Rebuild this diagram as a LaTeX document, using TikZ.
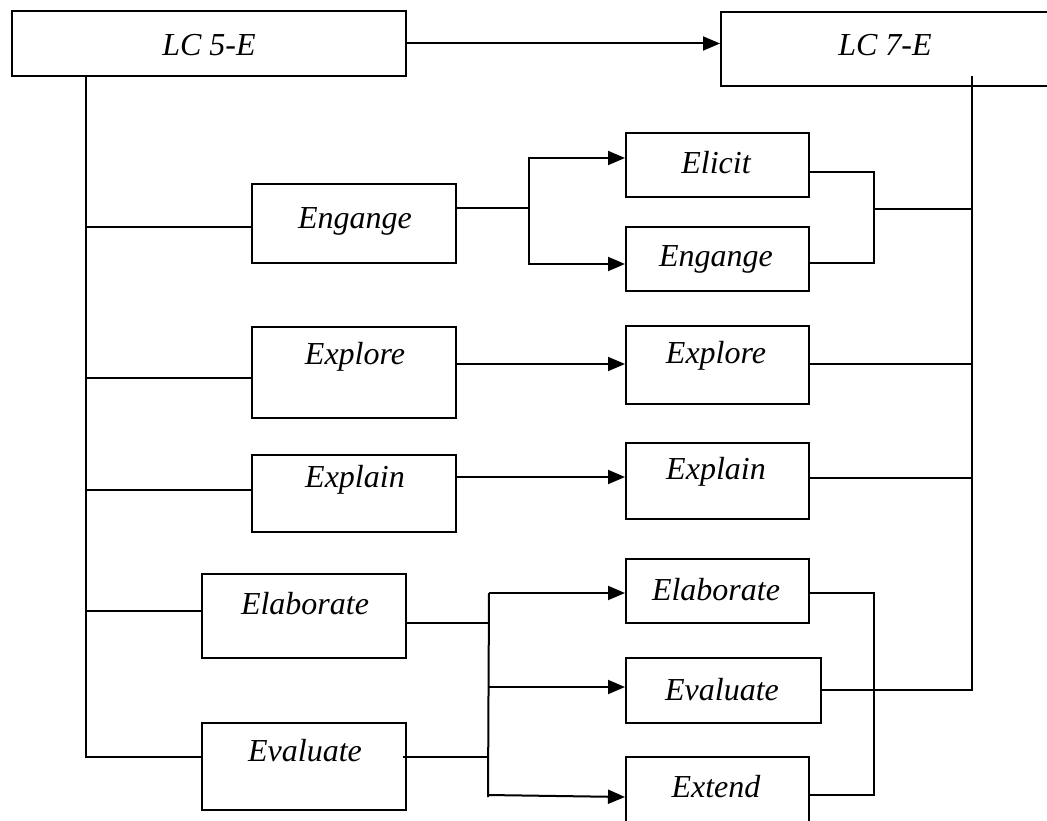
\documentclass[tikz,border=0pt]{standalone}
\usepackage{fontspec}
\setmainfont{Liberation Serif}
\usetikzlibrary{arrows.meta}
\begin{document}
\begin{tikzpicture}[x=1pt,y=-1pt,
  bx/.style={draw, line width=2pt, rectangle, inner sep=0pt},
  lbl/.style={font=\fontsize{32}{38}\selectfont\itshape, inner sep=0pt},
  ln/.style={line width=2pt},
  arr/.style={line width=2pt, -{Triangle[length=17pt,width=14pt]}}]
\useasboundingbox (0,0) rectangle (1047,821);
% boxes
\node[bx, minimum width=394pt, minimum height=65pt] (lc5) at (209,43.5) {};
\node[bx, minimum width=331pt, minimum height=74pt] (lc7) at (886.5,49) {};
\node[bx, minimum width=204pt, minimum height=79pt] (engL) at (354,223.5) {};
\node[bx, minimum width=183pt, minimum height=64pt] (elicit) at (717.5,165) {};
\node[bx, minimum width=183pt, minimum height=64pt] (eng2) at (717.5,259) {};
\node[bx, minimum width=204pt, minimum height=91pt] (expL) at (354,372.5) {};
\node[bx, minimum width=183pt, minimum height=78pt] (expR) at (717.5,365) {};
\node[bx, minimum width=204pt, minimum height=77pt] (explL) at (354,493.5) {};
\node[bx, minimum width=183pt, minimum height=76pt] (explR) at (717.5,481) {};
\node[bx, minimum width=204pt, minimum height=84pt] (elabL) at (304,616) {};
\node[bx, minimum width=204pt, minimum height=87pt] (evalL) at (304,766.5) {};
\node[bx, minimum width=183pt, minimum height=64pt] (elabR) at (717.5,591) {};
\node[bx, minimum width=195pt, minimum height=65pt] (evalR) at (723.5,690.5) {};
\node[bx, minimum width=183pt, minimum height=73pt] (extend) at (717.5,793.5) {};
% labels
\node[lbl] (tlc5) at (209,45) {LC 5-E};
\node[lbl] (tlc7) at (885,45) {LC 7-E};
\node[lbl] (tengL) at (355,221) {Engange};
\node[lbl] (telicit) at (716,163) {Elicit};
\node[lbl] (teng2) at (716,259) {Engange};
\node[lbl] (texpL) at (355,357) {Explore};
\node[lbl] (texpR) at (716,356) {Explore};
\node[lbl] (texplL) at (355,480) {Explain};
\node[lbl] (texplR) at (716,472) {Explain};
\node[lbl] (telabL) at (305,604) {Elaborate};
\node[lbl] (tevalL) at (305,751) {Evaluate};
\node[lbl] (telabR) at (716,590) {Elaborate};
\node[lbl] (tevalR) at (722,690) {Evaluate};
\node[lbl] (textend) at (716,787) {Extend};
% top arrow
\draw[arr] (lc5.east) -- (lc7.west |- lc5.east);
% left spine
\draw[ln] (lc5.south -| 86,0) -- (86,757) -- (evalL.west |- 0,757);
\draw[ln] (86,227) -- (engL.west |- 0,227);
\draw[ln] (86,378) -- (expL.west |- 0,378);
\draw[ln] (86,490) -- (explL.west |- 0,490);
\draw[ln] (86,611) -- (elabL.west |- 0,611);
% engage fork
\draw[ln] (engL.east |- 0,208) -- (529,208);
\draw[arr] (529,208) -- (529,158) -- (elicit.west |- 0,158);
\draw[arr] (529,208) -- (529,264) -- (eng2.west |- 0,264);
\draw[ln] (elicit.east |- 0,172) -- (874,172) -- (874,263) -- (eng2.east |- 0,263);
\draw[ln] (874,209) -- (972,209);
% explore / explain
\draw[arr] (expL.east |- 0,364) -- (expR.west |- 0,364);
\draw[ln] (expR.east |- 0,364) -- (972,364);
\draw[arr] (explL.east |- 0,477) -- (explR.west |- 0,477);
\draw[ln] (explR.east |- 0,478) -- (972,478);
% elaborate / evaluate fork
\draw[ln] (elabL.east |- 0,623) -- (489,623);
\draw[ln] (403,757) -- (488,757);
\draw[ln] (489,593) -- (488,797);
\draw[arr] (489,593) -- (elabR.west |- 0,593);
\draw[arr] (488,687) -- (evalR.west |- 0,687);
\draw[arr] (488,795) -- (extend.west |- 0,797);
\draw[ln] (elabR.east |- 0,593) -- (874,593) -- (874,795) -- (extend.east |- 0,795);
% right spine
\draw[ln] (evalR.east |- 0,690) -- (972,690) -- (972,76);
\end{tikzpicture}
\end{document}
